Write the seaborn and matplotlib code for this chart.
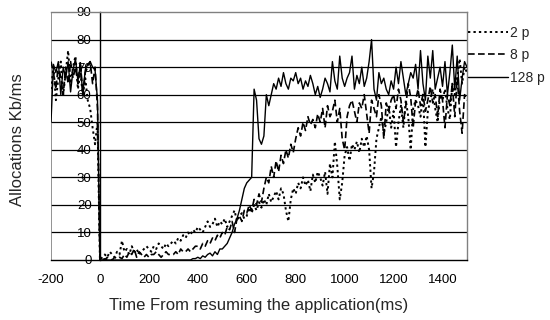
import numpy as np
import pandas as pd
import matplotlib
matplotlib.use("Agg")
import matplotlib.pyplot as plt
import seaborn as sns
from matplotlib.lines import Line2D

# time axis (ms), 10 ms sampling
time_ms = list(range(-200, 1501, 10))

p128 = [
    50, 71, 68, 72, 60, 70, 66, 72, 61, 69,
    73, 65, 71, 60, 69, 71, 72, 70, 69, 58,
    0, 0, 0.5, 0, 0, 0, 0, 0, 0, 0,
    0, 0, 0, 0, 0, 0, 0, 0, 0, 0,
    0, 0, 0, 0, 0, 0, 0, 0, 0, 0,
    0, 0, 0, 0, 0, 0, 0, 0, 0.5, 0.5,
    1, 0.5, 1.5, 1, 2, 2.5, 1.5, 3, 2, 4,
    4, 5, 6, 8, 10, 13, 15, 18, 22, 26,
    28, 29, 30, 62, 58, 44, 42, 45, 60, 56,
    60, 64, 62, 66, 63, 68, 64, 62, 66, 65,
    68, 64, 66, 62, 65, 63, 67, 64, 60, 63,
    59, 62, 66, 64, 61, 72, 65, 62, 74, 66,
    63, 66, 68, 74, 62, 67, 64, 70, 63, 66,
    72, 80, 62, 58, 68, 64, 66, 62, 60, 65,
    62, 70, 64, 72, 66, 60, 64, 68, 66, 71,
    62, 76, 64, 58, 74, 66, 76, 62, 66, 70,
    63, 72, 60, 68, 78, 62, 74, 58, 66, 72,
    70,
]

p8 = [
    72, 68, 62, 71, 66, 60, 70, 64, 72, 66,
    70, 64, 72, 60, 68, 70, 72, 64, 70, 55,
    0, 0.5, 0, 1, 0.5, 0, 1, 0.5, 1, 0.5,
    2, 1, 3, 2, 4, 1, 3, 2, 1, 2,
    1, 2, 2, 3, 2, 1, 2, 3, 2, 2,
    2, 3, 2, 4, 3, 3, 4, 3, 4, 5,
    5, 4, 6, 5, 7, 6, 8, 7, 9, 8,
    10, 9, 12, 11, 14, 10, 15, 16, 14, 18,
    17, 20, 18, 22, 20, 24, 21, 26, 30, 28,
    34, 30, 36, 32, 38, 35, 40, 37, 42, 39,
    44, 48, 45, 50, 47, 52, 49, 51, 48, 53,
    50, 55, 48, 56, 52, 54, 58, 50, 55, 44,
    40, 52, 56, 58, 54, 50, 57, 55, 60, 53,
    46, 58, 55, 52, 60, 56, 44, 57, 54, 58,
    60, 55, 62, 58, 50, 56, 64, 59, 48, 58,
    62, 56, 60, 54, 58, 63, 57, 60, 52, 62,
    58, 48, 60, 56, 64, 52, 66, 54, 46, 60,
    58,
]

p2 = [
    62, 70, 58, 66, 72, 60, 68, 76, 64, 70,
    74, 62, 68, 60, 66, 58, 55, 48, 42, 50,
    0, 1, 2, 1, 3, 2, 1, 3, 2, 7,
    3, 4, 2, 5, 3, 4, 2, 3, 4, 5,
    4, 3, 5, 4, 6, 5, 4, 6, 5, 6,
    7, 6, 8, 7, 9, 8, 10, 9, 11, 10,
    12, 11, 10, 12, 14, 12, 13, 15, 12, 14,
    13, 15, 12, 14, 16, 18, 14, 16, 17, 15,
    16, 19, 17, 20, 18, 21, 19, 22, 20, 24,
    21, 23, 25, 22, 26, 24, 18, 14, 22, 26,
    24, 28, 26, 30, 27, 29, 25, 31, 28, 32,
    30, 27, 32, 24, 35, 30, 43, 34, 22, 28,
    38, 41, 36, 42, 40, 43, 39, 44, 41, 45,
    40, 26, 32, 44, 48, 52, 46, 50, 56, 48,
    54, 41, 50, 56, 48, 58, 52, 40, 55, 58,
    56, 52, 60, 41, 54, 58, 62, 55, 50, 60,
    58, 62, 55, 51, 64, 60, 66, 73, 64, 70,
    68,
]

series_labels = ["2 p", "8 p", "128 p"]
x_ticks = list(range(-200, 1401, 200))
y_ticks = list(range(0, 91, 10))

sns.set_style("white")
plt.rcParams["font.family"] = ["Liberation Sans", "DejaVu Sans"]
plt.rcParams["axes.unicode_minus"] = False

fig = plt.figure(figsize=(5.5, 3.2), dpi=100)
ax = fig.add_axes([51 / 550, 1 - 260 / 320, (467 - 51) / 550, (260 - 12) / 320])

styles = {
    "2 p": dict(linestyle=(0, (1.2, 1.6)), linewidth=1.4),
    "8 p": dict(linestyle=(0, (4, 2)), linewidth=1.2),
    "128 p": dict(linestyle="-", linewidth=1.0),
}
data = {"2 p": p2, "8 p": p8, "128 p": p128}

for y in y_ticks[1:-1]:
    ax.axhline(y, color="black", linewidth=0.9, zorder=1)

for lab in series_labels:
    df = pd.DataFrame({"t": time_ms, "v": data[lab]})
    sns.lineplot(data=df, x="t", y="v", ax=ax, color="black", zorder=3,
                 legend=False, **styles[lab])

ax.set_xlim(-200, 1500)
ax.set_ylim(0, 90)
ax.set_xticks(x_ticks)
ax.set_yticks(y_ticks)
ax.tick_params(axis="both", direction="out", length=4, width=0.8,
               colors="black", labelsize=9.5)
ax.tick_params(axis="x", pad=6)
ax.tick_params(axis="y", pad=2)

ax.spines["left"].set_position(("data", 0))
ax.spines["left"].set_color("black")
ax.spines["left"].set_linewidth(1.0)
ax.spines["bottom"].set_color("black")
ax.spines["bottom"].set_linewidth(1.0)
for s in ("top", "right"):
    ax.spines[s].set_visible(True)
    ax.spines[s].set_color("#808080")
    ax.spines[s].set_linewidth(1.0)
ax.axvline(-200, color="#808080", linewidth=1.2, zorder=2)

ax.set_xlabel("Time From resuming the application(ms)", fontsize=12, labelpad=9)
ax.set_ylabel("")
fig.text(18 / 550, 1 - 140 / 320, "Allocations Kb/ms", rotation=90,
         ha="center", va="center", fontsize=12)

handles = [Line2D([0], [0], color="black", **styles[lab]) for lab in series_labels]
fig.legend(handles, series_labels, loc="upper left",
           bbox_to_anchor=(468 / 550, 1 - 26 / 320), frameon=False,
           fontsize=10, handlelength=2.9, handletextpad=0.15, labelspacing=0.6,
           borderpad=0, borderaxespad=0)

fig.savefig("out.png", dpi=100)
